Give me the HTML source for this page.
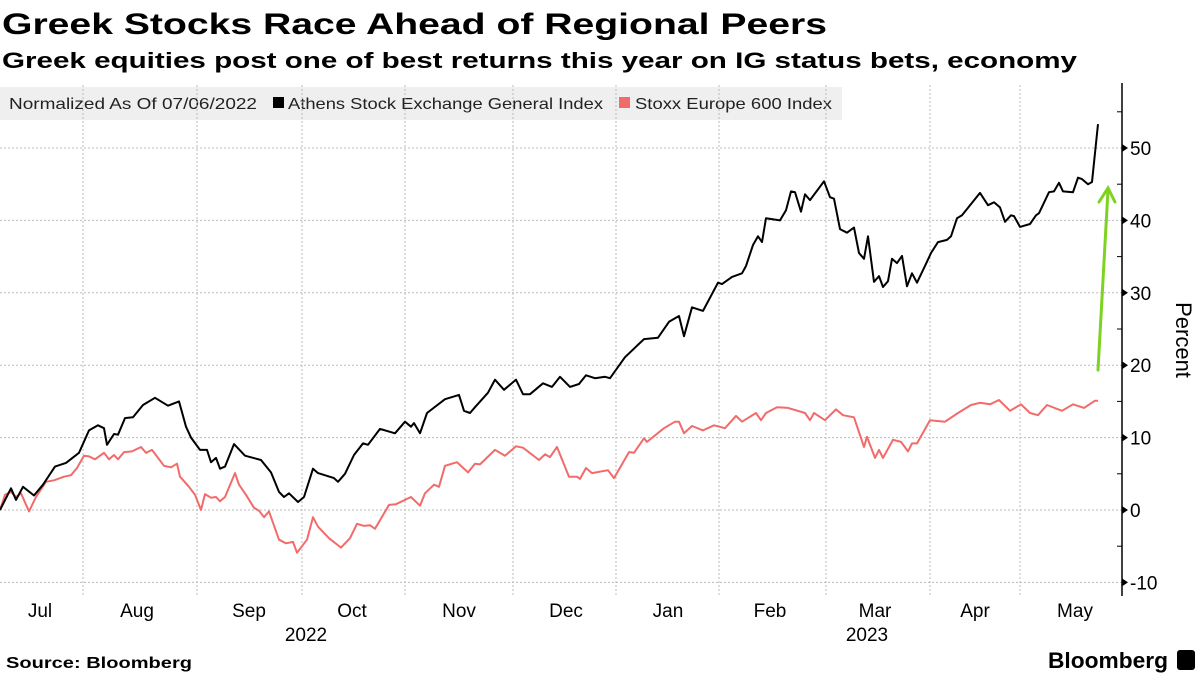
<!DOCTYPE html>
<html><head><meta charset="utf-8"><style>
html,body{margin:0;padding:0;background:#fff;}
svg{display:block;font-family:"Liberation Sans",sans-serif;}
</style></head><body>
<svg id="chart" width="1200" height="675" viewBox="0 0 1200 675" xmlns="http://www.w3.org/2000/svg">
<text x="2" y="34" font-size="30" font-weight="bold" textLength="825" lengthAdjust="spacingAndGlyphs">Greek Stocks Race Ahead of Regional Peers</text>
<text x="2" y="68" font-size="22" font-weight="bold" textLength="1075" lengthAdjust="spacingAndGlyphs">Greek equities post one of best returns this year on IG status bets, economy</text>
<g>
<rect x="0" y="87" width="842" height="33" fill="#efefef"/>
<text x="9" y="109" font-size="16" fill="#222" textLength="248" lengthAdjust="spacingAndGlyphs">Normalized As Of 07/06/2022</text>
<rect x="273" y="97" width="11" height="11" fill="#000"/>
<text x="288" y="109" font-size="16" fill="#222" textLength="315" lengthAdjust="spacingAndGlyphs">Athens Stock Exchange General Index</text>
<rect x="619" y="97" width="11" height="11" fill="#f26b6b"/>
<text x="635" y="109" font-size="16" fill="#222" textLength="197" lengthAdjust="spacingAndGlyphs">Stoxx Europe 600 Index</text>
</g>
<g id="grid"></g><g id="axes"></g><g id="series"></g>
<text transform="translate(1176,340) rotate(90)" text-anchor="middle" font-size="22" fill="#000">Percent</text>
<text x="6" y="668" font-size="16" font-weight="bold" textLength="186" lengthAdjust="spacingAndGlyphs">Source: Bloomberg</text>
<text x="1048" y="668" font-size="22" font-weight="bold" textLength="120" lengthAdjust="spacingAndGlyphs">Bloomberg</text>
<rect x="1177" y="650" width="18" height="20" rx="3" fill="#000"/>
</svg>
<script>
const yTicks=[-10,0,10,20,30,40,50];
const monthTicks=[83,197,302,405,513,616,719,826,930,1020];
const monthLabels=["Jul","Aug","Sep","Oct","Nov","Dec","Jan","Feb","Mar","Apr","May"];
const monthLabelPos=[40,137,249,352,459,566,668,770,875,975,1075];
const yearLabels=["2022","2023"];
const yearLabelPos=[306,867];
const athensT=[0,11,16,23,34,43,55,66,79,89,98,104,107,114,118,125,133,143,155,168,179,186,191,200,207,211,216,220,225,234,245,261,271,279,284,289,298,304,313,318,334,338,345,354,363,368,380,395,405,411,414,420,427,445,459,464,470,475,488,495,504,516,523,530,543,552,560,570,579,586,595,605,610,625,644,658,669,679,684,692,703,718,722,732,742,746,753,758,762,766,780,786,791,795,801,805,810,824,830,834,840,847,854,859,864,868,874,879,883,888,892,897,902,907,912,917,927,931,938,947,951,957,962,980,988,994,1000,1005,1011,1014,1020,1030,1036,1039,1049,1054,1059,1063,1073,1078,1082,1088,1092,1098];
const athensVal=[0,3,1.4,3.2,2,3.5,6,6.5,7.9,11,11.7,11.3,9,10.5,10.4,12.7,12.8,14.5,15.5,14.4,15,11.5,10,8.3,8.3,6.6,7.2,5.7,6,9.1,7.5,6.9,5.2,2.5,1.8,2.3,1.1,1.8,5.7,5.1,4.4,3.9,5,7.6,9.2,9,11.2,10.6,12.2,11.5,12,10.6,13.4,15.3,15.9,13.7,13.4,14.2,16.2,18,16.6,18,16,16,17.5,17,18.4,17,17.4,18.6,18.2,18.4,18.2,21.1,23.6,23.8,26,26.8,24,28,27.5,31.4,31.2,32.2,32.7,33.7,36.6,37.8,37,40.3,40,41.4,44,43.9,41.2,43.6,42.8,45.4,43.2,43,38.8,38.3,39,35.5,34.7,37.8,31.5,32.3,30.8,31.6,34.7,34.1,35.1,30.9,32.7,31.4,34.3,35.5,37,37.3,37.8,40.3,40.7,43.8,42.1,42.5,41.8,39.8,40.7,40.6,39.1,39.5,40.7,41,43.9,44,45.2,44,43.9,45.9,45.7,45,45.3,53.3];
const stoxxT=[0,5,11,16,21,29,36,46,54,64,71,77,84,89,95,104,109,114,118,124,132,141,146,152,164,171,177,180,189,195,201,205,211,216,220,225,235,239,246,254,259,264,269,279,286,293,297,307,313,318,329,341,350,357,364,370,375,389,396,411,420,425,434,439,445,457,468,475,480,495,505,516,523,539,545,550,557,569,577,580,586,592,608,614,629,634,644,647,664,675,679,684,692,703,714,725,736,742,756,761,766,777,788,805,810,814,825,836,843,854,864,867,875,879,883,893,901,908,912,917,930,945,958,971,980,990,999,1010,1021,1030,1038,1047,1062,1073,1084,1095,1098];
const stoxxVal=[0,2.1,2.5,1.8,2.3,-0.2,1.8,3.9,4.1,4.6,4.8,5.8,7.5,7.4,7,7.9,7,7.6,7,8,8.1,8.7,7.9,8.3,6.1,5.9,6.4,4.6,3.2,2.1,0,2.2,1.7,1.8,1.2,1.8,5.1,3.5,2.1,0.3,-0.1,-1,-0.2,-4.1,-4.6,-4.4,-5.9,-4.1,-1,-2.3,-3.9,-5.2,-3.9,-1.9,-2.2,-2.1,-2.6,0.7,0.8,1.8,0.6,2.3,3.5,3.2,6.1,6.6,5.2,6.4,6.3,8.3,7.5,8.8,8.6,6.9,7.7,7.3,8.7,4.6,4.6,4.3,5.8,5.1,5.5,4.4,8,7.9,9.9,9.4,11.3,12.2,12.2,10.6,11.6,11,11.7,11.3,13,12.2,13.4,12.4,13.4,14.2,14.1,13.4,12.4,13.4,12.4,13.9,13.1,12.8,8.7,10.1,7.2,8.3,7.2,9.7,9.4,8.1,9.2,9.2,12.4,12.2,13.4,14.5,14.8,14.6,15.2,13.7,14.6,13.4,13.1,14.5,13.7,14.6,14.1,15.1,15.1];
const NS="http://www.w3.org/2000/svg";
const X0=0,X1=1098,Y0=510,YPER=7.24,AX=1122;
function xs(t){return X0+(t-0)*(X1-X0)/1098;}
function ys(v){return Y0-v*YPER;}
function mk(tag,attrs,parent){const e=document.createElementNS(NS,tag);for(const k in attrs)e.setAttribute(k,attrs[k]);parent.appendChild(e);return e;}
const grid=document.getElementById('grid'),axes=document.getElementById('axes'),series=document.getElementById('series');
yTicks.forEach(v=>{
 const l=mk('line',{x1:0,x2:AX,y1:ys(v),y2:ys(v),stroke:'#bbb','stroke-width':1,'stroke-dasharray':'2,2'},grid);
 
 
 const tr=mk('path',{d:`M${AX} ${ys(v)-4}L${AX+6} ${ys(v)}L${AX} ${ys(v)+4}Z`,fill:'#000'},axes);
 
 
 const t=mk('text',{x:AX+8,y:ys(v)+7,'font-size':19,fill:'#000'},axes);
 t.textContent=v<0?'-'+Math.abs(v):String(v);
 
 
 if(v<50){const m=mk('line',{x1:AX-5,x2:AX,y1:ys(v+5),y2:ys(v+5),stroke:'#000'},axes);
 
 }
});
const mt=mk('line',{x1:AX-5,x2:AX,y1:ys(55),y2:ys(55),stroke:'#000'},axes);


const ya=mk('line',{x1:AX,x2:AX,y1:83,y2:596,stroke:'#000','stroke-width':1.5},axes);


monthTicks.forEach(t=>{
 const l=mk('line',{x1:xs(t),x2:xs(t),y1:85,y2:596,stroke:'#bbb','stroke-width':1,'stroke-dasharray':'2,2'},grid);
 
 
});
monthLabels.forEach((m,i)=>{
 const t=mk('text',{x:xs(monthLabelPos[i]),y:617,'font-size':19,'text-anchor':'middle',fill:'#000'},axes);
 t.textContent=m;
 
 
});
yearLabels.forEach((m,i)=>{
 const t=mk('text',{x:xs(yearLabelPos[i]),y:641,'font-size':19,'text-anchor':'middle',fill:'#000'},axes);
 t.textContent=m;
 
 
});
function line(T,V,color,name){
 const d=T.map((t,i)=>(i?'L':'M')+xs(t).toFixed(1)+' '+ys(V[i]).toFixed(1)).join('');
 const p=mk('path',{d:d,fill:'none',stroke:color,'stroke-width':2,'stroke-linejoin':'round'},series);
 
 
}
line(stoxxT,stoxxVal,'#f26b6b','stoxx-line');
line(athensT,athensVal,'#000','athens-line');
const ar=mk('g',{stroke:'#7ed321','stroke-width':3,fill:'none','stroke-linecap':'round'},series);


mk('line',{x1:1098,y1:370,x2:1108,y2:190},ar);
mk('path',{d:'M1099 202L1108 188L1115 202'},ar);
</script>
</body></html>
